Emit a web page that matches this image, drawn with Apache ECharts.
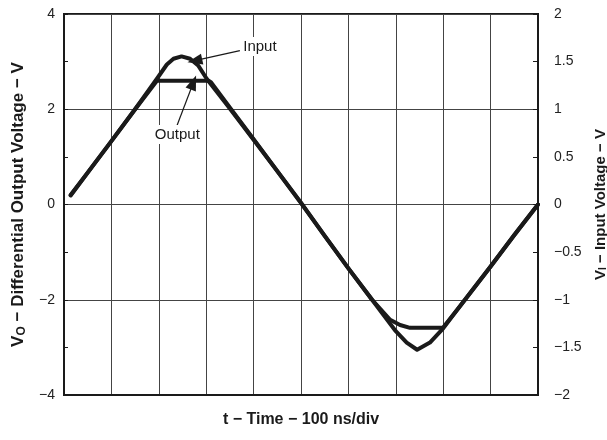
<!DOCTYPE html>
<html>
<head>
<meta charset="utf-8">
<script src="https://cdn.jsdelivr.net/npm/echarts@6/dist/echarts.min.js"></script>
<style>html,body{margin:0;padding:0;background:#fff;overflow:hidden}#c{width:607px;height:440px}</style>
</head>
<body>
<div id="c"></div>
<script>
// time in divisions (100 ns/div)
var timeIn  = [0.14,0.5,1.0,1.5,1.96,2.17,2.31,2.48,2.66,2.83,3.01,3.45,4.0,4.5,5.0,5.5,6.0,6.5,7.0,7.23,7.45,7.72,8.0,8.35,9.0,9.5,10.0];
// input voltage V_I (V), right axis
var inputV  = [0.10,0.335,0.665,1.0,1.32,1.47,1.53,1.555,1.53,1.46,1.32,1.04,0.68,0.35,0.02,-0.33,-0.67,-1.0,-1.33,-1.45,-1.525,-1.45,-1.30,-1.07,-0.65,-0.32,0.0];
var timeOut = [0.14,0.5,1.0,1.5,1.96,2.5,3.05,3.1,3.45,4.0,4.5,5.0,5.5,6.0,6.5,6.88,7.09,7.3,7.93,8.0,8.35,9.0,9.5,10.0];
// differential output voltage V_O (V), left axis
var outputV = [0.19,0.67,1.33,2.0,2.6,2.6,2.6,2.57,2.1,1.37,0.7,0.03,-0.66,-1.34,-2.0,-2.42,-2.53,-2.59,-2.59,-2.58,-2.14,-1.3,-0.64,0.0];
var leftTicks  = [-4,-2,0,2,4];
var rightTicks = [-2,-1.5,-1,-0.5,0,0.5,1,1.5,2];
// annotation arrows [tailX, tailY, headX, headY] in (div, V_O) units
var inputArrow  = [3.71, 3.23, 2.76, 3.02];
var outputArrow = [2.38, 1.65, 2.73, 2.56];
var inputLabelAt  = [3.76, 3.32];
var outputLabelAt = [2.39, 1.47];

function pairs(xs, ys){ return xs.map(function(x,i){ return [x, ys[i]]; }); }
function fmt(v){ return String(v).replace('-', '\u2212'); }

var font = '"Liberation Sans", Arial, Helvetica, sans-serif';
var ink = '#1a1a1a';
var chart = echarts.init(document.getElementById('c'), null, {renderer:'canvas'});
function nameRich(size, lh){
  return {
    b:{fontFamily:font,fontWeight:'bold',fontSize:size,color:ink,verticalAlign:'middle',lineHeight:lh},
    s:{fontFamily:font,fontWeight:'bold',fontSize:Math.round(size*0.68),color:ink,verticalAlign:'bottom',lineHeight:lh,padding:[Math.round(lh*0.4),0,0,0]}
  };
}
var arrowLine = function(a){ return [{coord:[a[0],a[1]],symbol:'none'},{coord:[a[2],a[3]],symbol:'triangle',symbolSize:[11,15]}]; };

chart.setOption({
  animation:false,
  backgroundColor:'#fff',
  grid:{left:64,right:69,top:14,bottom:45,show:true,borderColor:ink,borderWidth:2,backgroundColor:'transparent',outerBoundsMode:'none',containLabel:false},
  xAxis:{type:'value',min:0,max:10,interval:1,
    name:'t \u2212 Time \u2212 100 ns/div',nameLocation:'middle',nameGap:17,
    nameTextStyle:{fontFamily:font,fontWeight:'bold',fontSize:16,color:ink},
    axisLine:{show:true,onZero:false,lineStyle:{color:ink,width:2}},axisTick:{show:false},axisLabel:{show:false},
    splitLine:{show:true,lineStyle:{color:'#444',width:1}}},
  yAxis:[
    {type:'value',min:-4,max:4,interval:2,position:'left',
     name:'{b|V}{s|O}{b| \u2212 Differential Output Voltage \u2212 V}',nameLocation:'middle',nameGap:32,nameRotate:90,
     nameTextStyle:{rich:nameRich(17,20)},
     axisLine:{show:true,onZero:false,lineStyle:{color:ink,width:2}},axisTick:{show:false},
     axisLabel:{fontFamily:font,fontSize:14,color:'#222',margin:9,formatter:function(v){return leftTicks.indexOf(v)>=0?fmt(v):'';}},
     splitLine:{show:true,lineStyle:{color:'#444',width:1}}},
    {type:'value',min:-2,max:2,interval:0.5,position:'right',
     name:'{b|V}{s|I}{b| \u2212 Input Voltage \u2212 V}',nameLocation:'middle',nameGap:46,nameRotate:90,
     nameTextStyle:{rich:nameRich(15,16)},
     axisLine:{show:true,onZero:false,lineStyle:{color:ink,width:2}},
     axisTick:{show:true,inside:true,length:5,lineStyle:{color:ink,width:1}},
     axisLabel:{fontFamily:font,fontSize:14,color:'#222',margin:16,formatter:function(v){return rightTicks.indexOf(v)>=0?fmt(v):'';}},
     splitLine:{show:false}},
    {type:'value',min:-2,max:2,interval:0.5,position:'right',
     axisLine:{show:false},axisTick:{show:true,inside:false,length:4,lineStyle:{color:ink,width:1}},
     axisLabel:{show:false},splitLine:{show:false}}
  ],
  series:[
    {type:'line',name:'Output',yAxisIndex:0,data:pairs(timeOut,outputV),smooth:false,showSymbol:false,
     lineStyle:{color:ink,width:4,join:'round',cap:'round'},z:3,
     markLine:{silent:true,animation:false,label:{show:false},lineStyle:{color:ink,width:1.2,type:'solid'},
       data:[arrowLine(inputArrow),arrowLine(outputArrow)]},
     markPoint:{silent:true,symbol:'circle',symbolSize:0,
       data:[
         {coord:inputLabelAt,label:{show:true,position:'right',distance:0,formatter:'Input',fontFamily:font,fontSize:15,color:ink,backgroundColor:'#fff',padding:[2,1]}},
         {coord:outputLabelAt,label:{show:true,position:'inside',formatter:'Output',fontFamily:font,fontSize:15,color:ink,backgroundColor:'#fff',padding:[2,1]}}
       ]}},
    {type:'line',name:'Input',yAxisIndex:1,data:pairs(timeIn,inputV),smooth:false,showSymbol:false,
     lineStyle:{color:ink,width:4,join:'round',cap:'round'},z:3}
  ]
});
</script>
</body>
</html>
